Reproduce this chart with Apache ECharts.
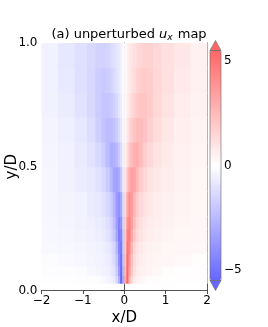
<!DOCTYPE html>
<html><head><meta charset="utf-8">
<script src="https://cdn.jsdelivr.net/npm/echarts@6/dist/echarts.min.js"></script>
<style>html,body{margin:0;padding:0;background:#fff}#c{width:268px;height:327px}</style>
</head><body><div id="c"></div>
<script>
// cell edges (x/D, y/D)
var xEdges = [-2,-1.6,-1.2,-0.9,-0.7,-0.55,-0.45,-0.35,-0.28,-0.21,-0.15,-0.1,-0.05,0,0.05,0.1,0.15,0.21,0.28,0.35,0.45,0.55,0.7,0.9,1.2,1.6,2];
var yEdges = [0.03,0.06,0.1,0.15,0.2,0.25,0.3,0.4,0.5,0.6,0.7,0.8,0.9,1.0];
var uxLeft = [
 [-0.04,-0.05,-0.06,-0.08,-0.1,-0.2,-0.35,-0.5,-0.8,-1.4,-2.8,-5.5,-3.0],
 [-0.06,-0.08,-0.12,-0.28,-0.36,-0.45,-0.55,-0.75,-1.1,-1.9,-3.6,-5.4,-2.6],
 [-0.1,-0.2,-0.28,-0.35,-0.42,-0.5,-0.65,-0.85,-1.3,-2.2,-4.0,-5.2,-2.2],
 [-0.25,-0.28,-0.33,-0.4,-0.47,-0.58,-0.75,-1.0,-1.5,-2.6,-4.4,-4.9,-1.9],
 [-0.28,-0.33,-0.4,-0.5,-0.6,-0.75,-1.0,-1.35,-2.0,-3.2,-4.7,-4.5,-1.9],
 [-0.3,-0.36,-0.45,-0.57,-0.7,-0.88,-1.15,-1.55,-2.3,-3.5,-4.5,-3.9,-1.6],
 [-0.32,-0.4,-0.52,-0.67,-0.83,-1.05,-1.4,-1.85,-2.6,-3.6,-4.0,-3.2,-1.3],
 [-0.33,-0.46,-0.63,-0.82,-1.05,-1.4,-1.85,-2.5,-3.2,-3.4,-3.0,-2.1,-0.8],
 [-0.35,-0.52,-0.75,-1.0,-1.35,-1.8,-2.4,-2.9,-2.85,-2.5,-1.95,-1.3,-0.5],
 [-0.4,-0.58,-0.87,-1.22,-1.7,-2.15,-2.4,-2.4,-2.15,-1.8,-1.35,-0.85,-0.3],
 [-0.46,-0.7,-1.05,-1.4,-1.85,-2.1,-2.1,-1.95,-1.65,-1.3,-0.95,-0.6,-0.22],
 [-0.52,-0.8,-1.15,-1.45,-1.8,-1.9,-1.8,-1.6,-1.3,-1.0,-0.75,-0.5,-0.18],
 [-0.52,-0.85,-1.15,-1.35,-1.6,-1.6,-1.5,-1.3,-1.1,-0.9,-0.75,-0.5,-0.18]
];
// right half x>0
var uxRight = [
 [3.0,5.5,2.8,1.4,0.8,0.5,0.35,0.2,0.1,0.08,0.06,0.05,0.04],
 [2.6,5.4,3.6,1.9,1.1,0.75,0.55,0.45,0.36,0.28,0.12,0.08,0.06],
 [2.2,5.2,4.0,2.2,1.3,0.85,0.65,0.5,0.42,0.35,0.28,0.2,0.1],
 [1.9,4.9,4.4,2.6,1.5,1.0,0.75,0.58,0.47,0.4,0.33,0.28,0.25],
 [1.9,4.5,4.7,3.2,2.0,1.35,1.0,0.75,0.6,0.5,0.4,0.33,0.28],
 [1.6,3.9,4.5,3.5,2.3,1.55,1.15,0.88,0.7,0.57,0.45,0.36,0.3],
 [1.3,3.2,4.0,3.6,2.6,1.85,1.4,1.05,0.83,0.67,0.52,0.4,0.32],
 [0.8,2.1,3.0,3.4,3.2,2.5,1.85,1.4,1.05,0.82,0.63,0.46,0.33],
 [0.5,1.3,1.95,2.5,2.85,2.9,2.4,1.8,1.35,1.0,0.75,0.52,0.35],
 [0.3,0.85,1.35,1.8,2.15,2.4,2.4,2.15,1.7,1.22,0.87,0.58,0.4],
 [0.22,0.6,0.95,1.3,1.65,1.95,2.1,2.1,1.85,1.4,1.05,0.7,0.46],
 [0.18,0.5,0.75,1.0,1.3,1.6,1.8,1.9,1.8,1.45,1.15,0.8,0.52],
 [0.18,0.5,0.75,0.9,1.1,1.3,1.5,1.6,1.6,1.35,1.15,0.85,0.52]
];
var xTicks = [-2,-1,0,1,2];
var yTicks = [0,0.5,1];
var cbTicks = [-5,0,5];
var cbRange = [-5.5,5.5];
var titleText = '(a) unperturbed ';

var cells = [];
for (var j = 0; j < yEdges.length - 1; j++) {
  var row = uxLeft[j].concat(uxRight[j]);
  for (var i = 0; i < xEdges.length - 1; i++) {
    cells.push([xEdges[i], xEdges[i+1], yEdges[j], yEdges[j+1], row[i]]);
  }
}
function fmt(v, d) { var s = Math.abs(v).toFixed(d); return v < 0 ? '\u2212' + s : s; }

var FONT = 'DejaVu Sans';
var CB = {left: 210, top: 50.5, width: 11, height: 230, tip: 10};
var chart = echarts.init(document.getElementById('c'), null, {renderer: 'canvas'});
var axisLine = {show: true, lineStyle: {color: '#555', width: 1}};
var tick = {show: true, length: 3.5, lineStyle: {color: '#222', width: 0.8}};
var lab = {color: '#000', fontSize: 12, fontFamily: FONT};
var cbL = CB.left, cbR = CB.left + CB.width, cbT = CB.top, cbB = CB.top + CB.height, cbM = (cbL + cbR) / 2;
chart.setOption({
  animation: false,
  title: {
    text: titleText + '{u|u}{s|x} map', left: 124, top: 23, textAlign: 'center',
    textStyle: {fontFamily: FONT, fontSize: 13, fontWeight: 'normal', color: '#000',
      rich: {u: {fontFamily: FONT, fontSize: 13, fontStyle: 'italic', color: '#000'},
             s: {fontFamily: FONT, fontSize: 9, fontStyle: 'italic', color: '#000', padding: [5, 1, 0, 0]}}}
  },
  grid: [
    {left: 41.5, top: 43, width: 165.5, height: 247.5, outerBoundsMode: 'none', containLabel: false},
    {left: CB.left, top: CB.top, width: CB.width, height: CB.height, outerBoundsMode: 'none', containLabel: false}
  ],
  xAxis: [
    {gridIndex: 0, type: 'value', min: -2, max: 2, interval: 1, name: 'x/D', nameLocation: 'middle', nameGap: 20,
     nameMoveOverlap: false,
     nameTextStyle: {fontFamily: FONT, fontSize: 15, color: '#000'},
     axisLine: axisLine, axisTick: tick, splitLine: {show: false},
     axisLabel: Object.assign({margin: 4, customValues: xTicks, formatter: function (v) { return fmt(v, 0); }}, lab)},
    {gridIndex: 1, type: 'value', show: false, min: 0, max: 1}
  ],
  yAxis: [
    {gridIndex: 0, type: 'value', min: 0, max: 1, interval: 0.5, name: 'y/D', nameLocation: 'middle', nameGap: 22,
     nameMoveOverlap: false,
     nameTextStyle: {fontFamily: FONT, fontSize: 15, color: '#000'},
     axisLine: axisLine, axisTick: tick, splitLine: {show: false},
     axisLabel: Object.assign({margin: 4, customValues: yTicks, formatter: function (v) { return v.toFixed(1); }}, lab)},
    {gridIndex: 0, type: 'value', min: 0, max: 1, position: 'right', axisLine: axisLine,
     axisTick: {show: false}, axisLabel: {show: false}, splitLine: {show: false}},
    {gridIndex: 1, type: 'value', min: cbRange[0], max: cbRange[1], position: 'right',
     axisLine: {show: false}, splitLine: {show: false},
     axisTick: {show: true, length: 3.5, customValues: cbTicks, lineStyle: {color: '#222', width: 0.8}},
     axisLabel: Object.assign({margin: 3, customValues: cbTicks, formatter: function (v) { return fmt(v, 0); }}, lab)}
  ],
  visualMap: {
    type: 'continuous', seriesIndex: 0, dimension: 4, min: cbRange[0], max: cbRange[1],
    calculable: false, left: CB.left, top: CB.top, itemWidth: CB.width, itemHeight: CB.height, padding: 0,
    text: null, inRange: {color: ['#6666ff', '#ffffff', '#ff6666']}
  },
  graphic: [
    {type: 'polygon', z: 100, shape: {points: [[cbL, cbT], [cbM, cbT - CB.tip], [cbR, cbT]]}, style: {fill: '#ff6666', stroke: '#666', lineWidth: 0.6}},
    {type: 'polygon', z: 100, shape: {points: [[cbL, cbB], [cbM, cbB + CB.tip], [cbR, cbB]]}, style: {fill: '#6666ff', stroke: '#666', lineWidth: 0.6}},
    {type: 'rect', z: 100, shape: {x: cbL, y: cbT, width: CB.width, height: CB.height}, style: {fill: 'none', stroke: '#666', lineWidth: 0.6}}
  ],
  series: [{
    type: 'custom', xAxisIndex: 0, yAxisIndex: 0, encode: {x: [0, 1], y: [2, 3]},
    data: cells,
    renderItem: function (params, api) {
      var p0 = api.coord([api.value(0), api.value(3)]);
      var p1 = api.coord([api.value(1), api.value(2)]);
      return {type: 'rect', shape: {x: p0[0], y: p0[1], width: p1[0] - p0[0] + 0.6, height: p1[1] - p0[1] + 0.6},
              style: {fill: api.visual('color')}};
    }
  }]
});
</script></body></html>
